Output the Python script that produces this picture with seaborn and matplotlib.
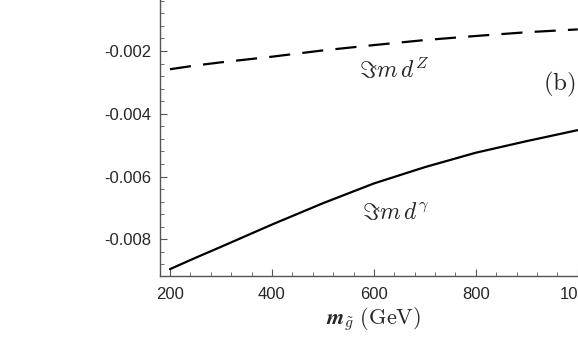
import matplotlib
matplotlib.use('Agg')
import matplotlib.pyplot as plt
import pandas as pd
import seaborn as sns
from matplotlib.ticker import MultipleLocator, FuncFormatter

# Data
m_gluino = [200, 250, 300, 400, 500, 600, 700, 800, 900, 1000]
im_dZ = [-0.00258, -0.00246, -0.00236, -0.00218, -0.00198, -0.00181, -0.00165, -0.00152, -0.00140, -0.00131]
im_dgamma = [-0.00895, -0.00859, -0.00824, -0.00753, -0.00685, -0.00622, -0.00570, -0.00524, -0.00487, -0.00452]

df = pd.DataFrame({'m': m_gluino, 'dZ': im_dZ, 'dgamma': im_dgamma})

sns.set_style('ticks')
plt.rcParams['font.family'] = ['Liberation Sans', 'DejaVu Sans']
plt.rcParams['mathtext.fontset'] = 'cm'

fig = plt.figure(figsize=(5.78, 3.38), dpi=100)
ax = fig.add_axes([0.2768, 0.1843, 0.7405, 0.8225])

sns.lineplot(x=df['m'], y=df['dZ'], color='black', lw=1.6, ax=ax,
             dashes=False, linestyle=(0, (9.5, 5.5)))
sns.lineplot(x=df['m'], y=df['dgamma'], color='black', lw=1.6, ax=ax)

ax.set_xlim(180.4, 1020)
ax.set_ylim(-0.00916, -0.0003)

ax.xaxis.set_major_locator(MultipleLocator(200))
ax.xaxis.set_minor_locator(MultipleLocator(40))
ax.yaxis.set_major_locator(MultipleLocator(0.002))
ax.yaxis.set_minor_locator(MultipleLocator(0.0004))
ax.yaxis.set_major_formatter(FuncFormatter(lambda v, p: f'{v:.3f}'))
ax.xaxis.set_major_formatter(FuncFormatter(lambda v, p: f'{int(round(v))}'))

for s in ax.spines.values():
    s.set_color('#555555')
    s.set_linewidth(1.0)
ax.tick_params(which='major', direction='in', length=5, width=0.8, color='#555555',
               labelsize=12, pad=6, top=False, right=False)
ax.tick_params(which='minor', direction='in', length=3, width=0.6, color='#555555',
               top=False, right=False)
ax.tick_params(axis='x', which='major', pad=8)

ax.set_xlabel(r'$\boldsymbol{m}_{\boldsymbol{\tilde{g}}}\ \mathrm{(GeV)}$', fontsize=16, labelpad=2)
ax.set_ylabel('')

ax.text(571, -0.00262, r'$\Im m\, d^Z$', fontsize=17, va='center', ha='left')
ax.text(577, -0.00715, r'$\Im m\, d^\gamma$', fontsize=17, va='center', ha='left')
ax.text(932, -0.00306, r'$\mathrm{(b)}$', fontsize=18, va='center', ha='left')

fig.savefig('out.png', dpi=100)
